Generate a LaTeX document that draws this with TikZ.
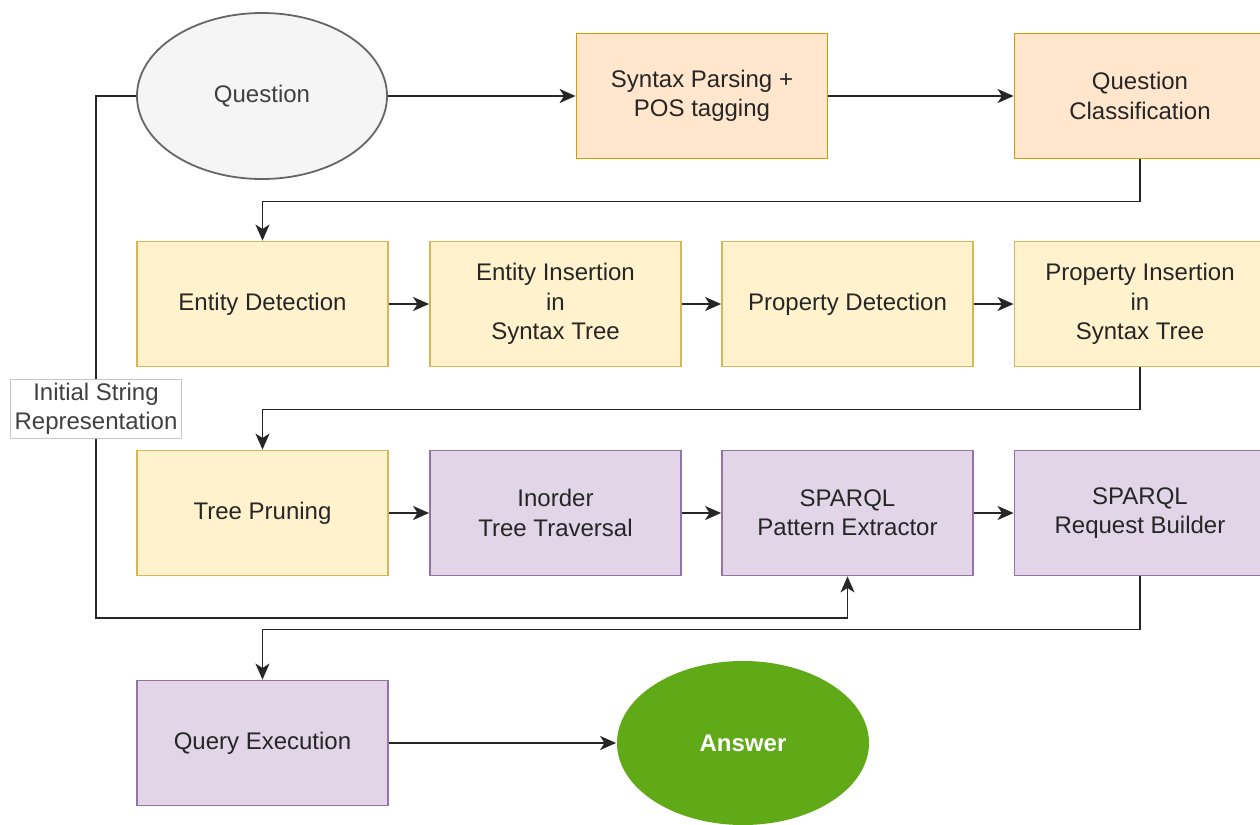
\documentclass[tikz,border=0pt]{standalone}
\usepackage{fontspec}
\setmainfont{Liberation Sans}
\usetikzlibrary{arrows.meta,shapes.geometric}
\definecolor{orfill}{HTML}{FFE6CC}
\definecolor{ordraw}{HTML}{D79B00}
\definecolor{ylfill}{HTML}{FFF2CC}
\definecolor{yldraw}{HTML}{D6B656}
\definecolor{pufill}{HTML}{E1D5E7}
\definecolor{pudraw}{HTML}{9673A6}
\definecolor{gyfill}{HTML}{F5F5F5}
\definecolor{gydraw}{HTML}{666666}
\definecolor{gnfill}{HTML}{60A917}
\tikzset{
  base/.style={align=center,font=\fontsize{12}{14.7}\selectfont,text=black!85,
    line width=0.9pt,inner sep=0pt},
  box/.style={base,rectangle,minimum width=125.5pt,minimum height=62.5pt},
  orbox/.style={box,fill=orfill,draw=ordraw},
  ylbox/.style={box,fill=ylfill,draw=yldraw},
  pubox/.style={box,fill=pufill,draw=pudraw},
  flow/.style={line width=0.9pt,draw=black!85,-{Stealth[length=8pt,width=7pt,inset=2.2pt]}}
}
\begin{document}
\begin{tikzpicture}[x=0.5pt,y=-0.5pt]
\useasboundingbox (0,0) rectangle (1260,825);

\node[base,ellipse,fill=gyfill,draw=gydraw,text=black!75,minimum width=125pt,minimum height=83pt] (question) at (262,96) {Question};
\node[orbox] (parse) at (702,96) {Syntax Parsing +\\POS tagging};
\node[orbox] (classif) at (1140,96) {Question\\Classification};

\node[ylbox] (entdet) at (262.5,304) {Entity Detection};
\node[ylbox] (entins) at (555.5,304) {Entity Insertion\\in\\Syntax Tree};
\node[ylbox] (propdet) at (847.5,304) {Property Detection};
\node[ylbox] (propins) at (1140,304) {Property Insertion\\in\\Syntax Tree};

\node[ylbox] (prune) at (262.5,513) {Tree Pruning};
\node[pubox] (inorder) at (555.5,513) {Inorder\\Tree Traversal};
\node[pubox] (pattern) at (847.5,513) {SPARQL\\Pattern Extractor};
\node[pubox] (request) at (1140,513) {SPARQL\\Request Builder};

\node[pubox] (exec) at (262.5,743) {Query Execution};
\node[base,ellipse,fill=gnfill,text=white,font=\fontsize{12}{14.7}\selectfont\bfseries,minimum width=126pt,minimum height=82pt] (answer) at (743,743) {Answer};

\draw[flow] (question) -- (parse);
\draw[flow] (parse) -- (classif);
\draw[flow] (classif.south) -- ++(0,42) -| (entdet.north);
\draw[flow] (entdet) -- (entins);
\draw[flow] (entins) -- (propdet);
\draw[flow] (propdet) -- (propins);
\draw[flow] (propins.south) -- ++(0,42) -| (prune.north);
\draw[flow] (prune) -- (inorder);
\draw[flow] (inorder) -- (pattern);
\draw[flow] (pattern) -- (request);
\draw[flow] (request.south) -- ++(0,53) -| (exec.north);
\draw[flow] (exec) -- (answer);

% initial string goes straight to the pattern extractor
\coordinate (bend) at (96,618);
\draw[flow] (question.west) -| (bend) -| (pattern.south);
\node[base,fill=white,draw=gray!45,line width=0.4pt,inner sep=2pt,text=black!75] (initlabel) at (96,409) {Initial String\\Representation};
\end{tikzpicture}
\end{document}
